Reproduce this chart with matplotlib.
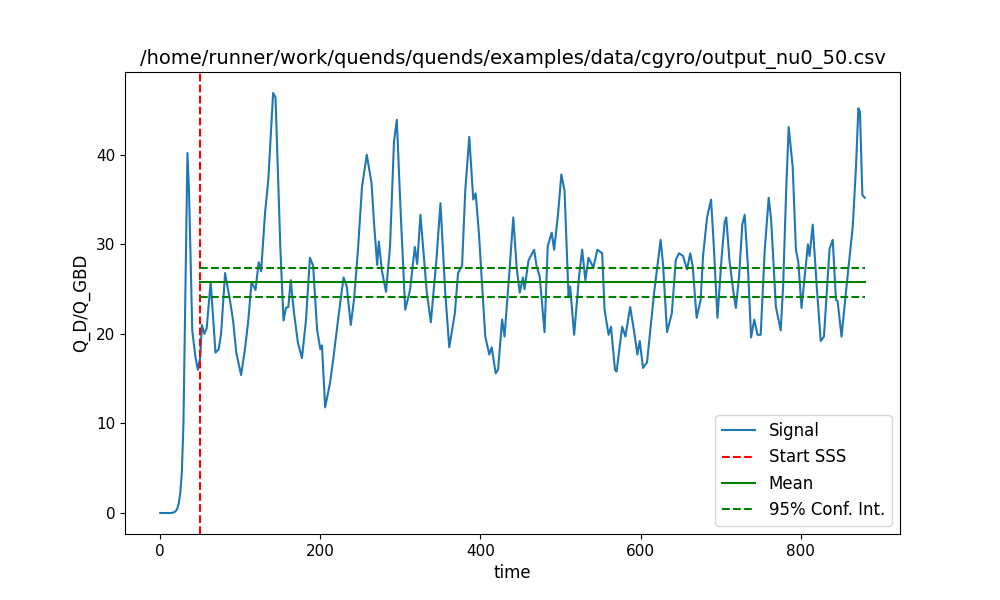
import matplotlib
matplotlib.use("Agg")
import matplotlib.pyplot as plt

time = [0, 14, 18, 21, 23, 25, 27, 29, 31, 34, 36, 40, 44, 47, 50, 52, 55, 58, 63, 69, 73, 76, 81, 87, 91, 95,
        101, 106, 110, 114, 119, 123, 126, 131, 135, 141, 144, 150, 154, 157, 160, 163, 167, 172,
        177, 182, 187, 191, 196, 200, 202, 206, 212, 216, 222, 229, 233, 238, 242, 247, 252, 258,
        264, 267, 271, 273, 277, 282, 287, 292, 295.5, 300, 306, 312, 318, 321, 325, 333, 338, 345,
        350, 356, 361, 368, 372, 377, 381, 386, 391, 394, 398, 406, 411, 414, 419, 422, 427, 430,
        436, 441, 445, 449, 453, 455, 460, 467, 470, 474, 480, 484, 489, 492, 497, 501, 505, 510,
        512, 517, 523, 527, 531, 535, 541, 546, 552, 555, 560, 563, 568, 570, 577, 581, 587, 592,
        596, 599, 603, 608, 617, 625, 628, 633, 639, 644, 648, 653, 658, 662, 665, 670, 675, 678,
        683, 688, 691, 696, 701, 705, 707, 711, 716, 719, 723, 727, 730, 734, 738, 742, 746, 750,
        755, 760, 763, 769, 775, 778, 782, 785, 790, 794, 797, 801, 805, 809, 811, 815, 820, 825,
        829, 836, 840, 844, 846, 851, 858, 865, 869, 872, 874, 877, 880]
signal = [0, 0, 0.1, 0.4, 1.0, 2.2, 4.5, 10, 22, 40.2, 35.8, 20.4, 17.4, 16, 17.4, 21, 20, 20.6, 25.8, 17.9, 18.3, 20,
          26.8, 23.8, 21.5, 17.9, 15.4, 18.4, 21.5, 25.8, 24.9, 28, 27, 33.6, 37.2, 46.9, 46.4, 29.7,
          21.5, 22.9, 23, 26, 22.4, 19, 17.3, 21.5, 28.5, 27.6, 20.4, 18.3, 18.7, 11.8, 14.5, 17.1,
          21.5, 26.3, 25.3, 21, 23.8, 29.4, 36.4, 40, 36.8, 32.4, 27.7, 30.3, 27, 24.7, 29.7, 41.5,
          43.9, 34.2, 22.7, 24.9, 29.7, 27.8, 33.3, 24.6, 21.3, 28.3, 34.6, 24.6, 18.5, 22.3, 26.8,
          27.6, 36, 42, 35, 35.7, 31.3, 19.7, 17.7, 18.5, 15.6, 16, 21.6, 19.7, 26.8, 33, 27.6, 24.6,
          26.3, 25, 28.2, 29.4, 27.6, 26.4, 20.2, 29.8, 31.3, 29.4, 33.5, 37.8, 36, 24.1, 25.3, 19.9,
          26.3, 29.4, 26, 28.5, 27.4, 29.4, 29, 22.7, 19.9, 20.8, 16, 15.8, 20.8, 19.7, 23, 20.2,
          17.7, 19.2, 16.2, 16.8, 24.7, 30.5, 27.8, 20.2, 22.3, 28.3, 29, 28.7, 27.2, 29, 27.6, 21.8,
          23.8, 28.7, 33, 35, 30.5, 21.8, 28.3, 32.5, 33, 28.2, 24.6, 22.9, 26.4, 32.2, 33.3, 27.6,
          19.6, 21.6, 19.9, 19.9, 29.3, 35.2, 32.8, 23, 20.4, 25.3, 36.5, 43.1, 38.6, 29.4, 28, 22.9,
          26.4, 30, 28.7, 32.2, 25.3, 19.2, 19.7, 29.5, 30.5, 23.8, 23.7, 19.7, 26, 32, 38.6, 45.2,
          44.8, 35.5, 35.2]

start_sss = 50
mean_val = 25.8
ci_low, ci_high = 24.1, 27.4
t_end = 880

fig, ax = plt.subplots(figsize=(10, 6), dpi=100)
ax.plot(time, signal, color="#1f77b4", label="Signal")
ax.axvline(start_sss, color="r", linestyle="--", label="Start SSS")
ax.plot([start_sss, t_end], [mean_val, mean_val], color="g", label="Mean")
ax.plot([start_sss, t_end], [ci_low, ci_low], color="g", linestyle="--", label="95% Conf. Int.")
ax.plot([start_sss, t_end], [ci_high, ci_high], color="g", linestyle="--")
ax.set_xlabel("time", fontsize=12)
ax.set_ylabel("Q_D/Q_GBD", fontsize=12)
ax.set_title("/home/runner/work/quends/quends/examples/data/cgyro/output_nu0_50.csv", fontsize=14)
ax.tick_params(labelsize=11)
ax.legend(fontsize=12, loc="lower right")
fig.savefig("out.png")
